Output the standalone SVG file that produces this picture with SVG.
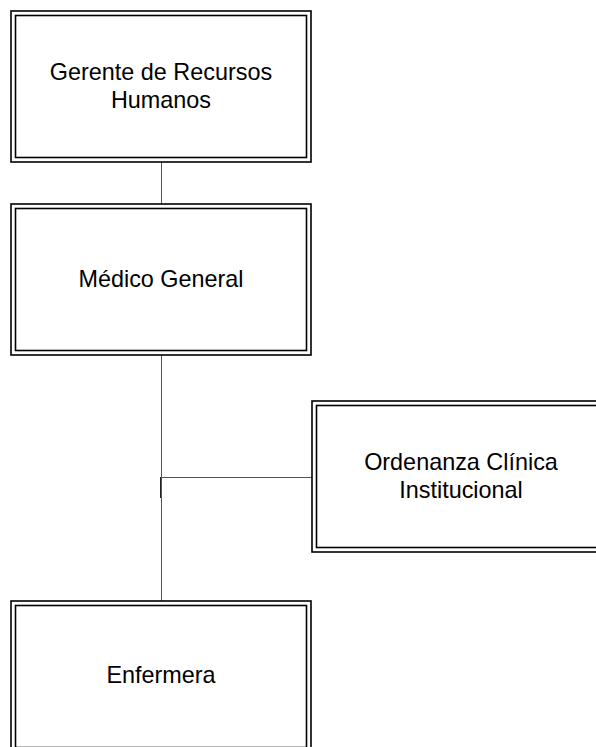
<svg xmlns="http://www.w3.org/2000/svg" width="596" height="747" viewBox="0 0 596 747">
  <style>
    .outer { fill: #ffffff; stroke: #000000; stroke-width: 1.6; }
    .inner { fill: none; stroke: #000000; stroke-width: 1.6; }
    .lbl { font-family: "Liberation Sans", Arial, sans-serif; font-size: 23.4px; fill: #000000; text-anchor: middle; }
    .conn { stroke: #555555; stroke-width: 1; fill: none; }
  </style>
  <rect x="0" y="0" width="596" height="747" fill="#ffffff"/>

  <!-- connectors -->
  <g id="connectors">
    <line class="conn" x1="161.5" y1="162" x2="161.5" y2="204"/>
    <line class="conn" x1="161.5" y1="355" x2="161.5" y2="601"/>
    <line class="conn" x1="161.5" y1="477.5" x2="312" y2="477.5"/>
    <line stroke="#222222" stroke-width="1" x1="160.5" y1="477" x2="160.5" y2="498"/>
  </g>

  <!-- nodes -->
  <g id="gerente">
    <rect class="outer" x="11" y="11" width="300" height="151"/>
    <rect class="inner" x="15.5" y="15.5" width="291" height="142"/>
    <text class="lbl" x="161" y="80">Gerente de Recursos</text>
    <text class="lbl" x="161" y="108">Humanos</text>
  </g>

  <g id="medico">
    <rect class="outer" x="11" y="204" width="300" height="151"/>
    <rect class="inner" x="15.5" y="208.5" width="291" height="142"/>
    <text class="lbl" x="161" y="287">Médico General</text>
  </g>

  <g id="ordenanza">
    <rect class="outer" x="312" y="401" width="300" height="151"/>
    <rect class="inner" x="316.5" y="405.5" width="291" height="142"/>
    <text class="lbl" x="461" y="470">Ordenanza Clínica</text>
    <text class="lbl" x="461" y="498">Institucional</text>
  </g>

  <g id="enfermera">
    <rect class="outer" x="11" y="601" width="300" height="151"/>
    <rect class="inner" x="15.5" y="605.5" width="291" height="142"/>
    <text class="lbl" x="161" y="683">Enfermera</text>
  </g>
</svg>
